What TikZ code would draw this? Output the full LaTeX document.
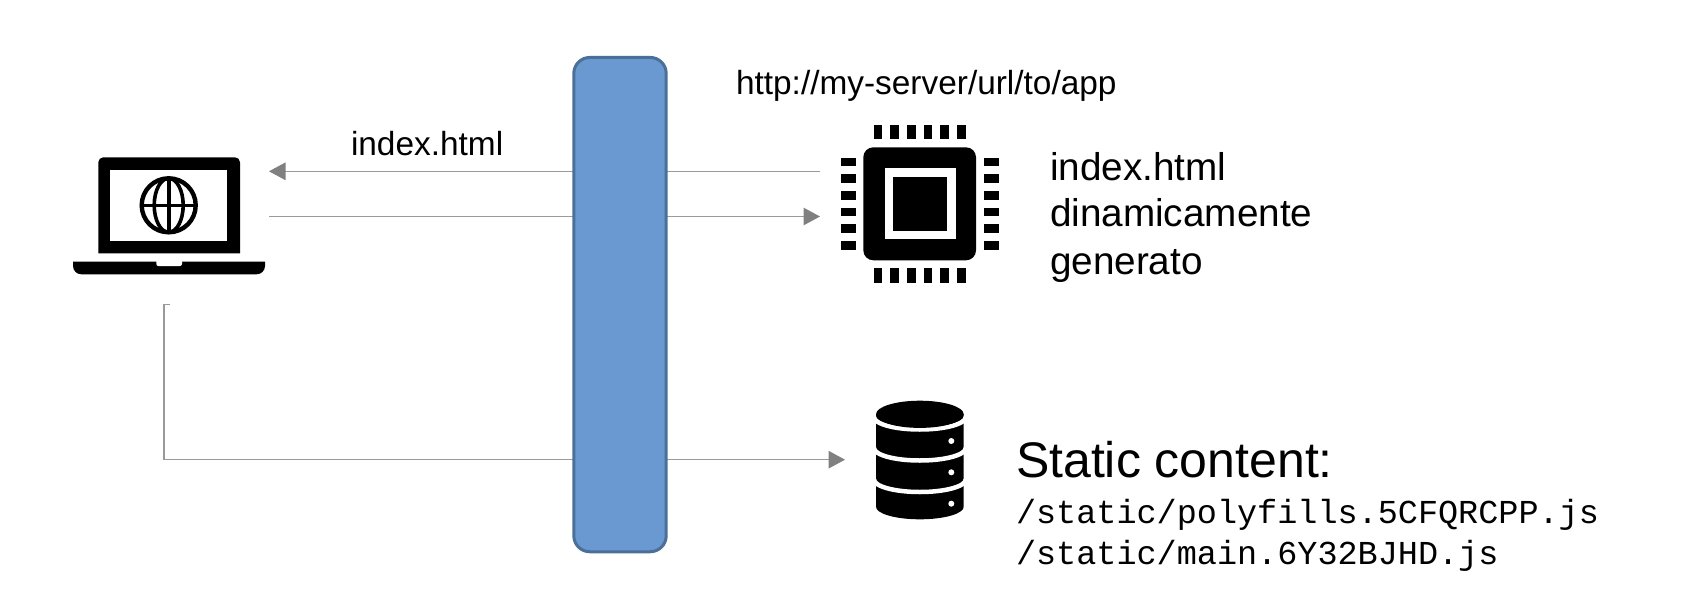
\documentclass[tikz,border=0pt]{standalone}
\usepackage{fontspec}
\setmainfont{Liberation Sans}
\setmonofont{Liberation Mono}
\usetikzlibrary{arrows.meta}
\definecolor{barfill}{HTML}{6A98D0}
\definecolor{bardraw}{HTML}{4A7099}
\definecolor{linkgray}{HTML}{9A9A9A}
\definecolor{headgray}{HTML}{808080}
\tikzset{
  link/.style={draw=linkgray,line width=1.2pt},
  linkarrow/.style={link,-{Triangle[length=16.5pt,width=17.5pt,color=headgray,fill=headgray]}},
  barbox/.style={draw=bardraw,fill=barfill,line width=3pt,rounded corners=16pt},
  iconbox/.style={inner sep=0pt,outer sep=0pt,draw=none},
  blk/.style={fill=black,draw=none},
  txt/.style={inner sep=0pt,outer sep=0pt,anchor=base west,text=black},
}
\begin{document}
\begin{tikzpicture}[x=1pt,y=-1pt]
\useasboundingbox (0,0) rectangle (1694,602);
\fill[white] (0,0) rectangle (1694,602);
% anchor boxes
\node[iconbox,minimum width=196pt,minimum height=118pt] (laptop) at (171,216) {};
\node[iconbox,minimum width=200pt,minimum height=159pt] (chip) at (920,204) {};
\node[iconbox,minimum width=120pt,minimum height=119pt] (db) at (905,460) {};
\coordinate (lapTail) at (170,304.5);
\coordinate (lapCorner) at (164,304.5);
% connectors
\draw[linkarrow] (chip.west |- 0,171.3) -- (laptop.east |- 0,171.3);
\draw[linkarrow] (laptop.east |- 0,216.5) -- (chip.west |- 0,216.5);
\draw[linkarrow] (lapTail) -- (lapCorner) -- (164,459.7) -- (db.west |- 0,459.7);
% bar
\node[barbox,minimum width=92.4pt,minimum height=494.3pt,inner sep=0pt] (bar) at (620,304.6) {};
% laptop
\fill[blk] (98.3,253.3) -- (98.3,162.3) arc (180:270:5) -- (235,157.3) arc (270:360:5) -- (240,253.3) -- cycle;
\fill[white] (110.3,170) rectangle (227.4,240.7);
\draw[line width=4.4pt] (168.7,205.3) circle (27);
\draw[line width=3.6pt] (168.7,205.3) ellipse (14.5 and 27);
\draw[line width=3.6pt] (168.7,178.3) -- (168.7,232.3) (141.7,205.3) -- (195.7,205.3);
\fill[blk] (73,261.7) -- (265,261.7) -- (265,266) arc (0:90:8.3) -- (81.3,274.3) arc (90:180:8.3) -- cycle;
\fill[white,rounded corners=2pt] (156.3,258) -- (156.3,266) -- (182,266) -- (182,258) -- cycle;
% chip
\fill[blk,rounded corners=10pt] (863.3,147.3) rectangle (976,260.3);
\fill[white] (884.7,168.3) rectangle (955.7,239.3);
\fill[blk] (892.7,176.7) rectangle (947,231.3);
\foreach \p in {878,894.7,911.3,928,944.7,961.3}{
  \fill[blk] (\p-4.3,124.7) rectangle (\p+4.3,139.3);
  \fill[blk] (\p-4.3,268.3) rectangle (\p+4.3,283.3);
}
\foreach \p in {162,178.7,195.3,212,228.7,245.3}{
  \fill[blk] (840.7,\p-4.3) rectangle (855.7,\p+4.3);
  \fill[blk] (984.3,\p-4.3) rectangle (999.3,\p+4.3);
}
% database
\fill[blk] (876,414) -- (876,506.8) arc (180:0:43.85 and 12.5) -- (963.7,414) -- cycle;
\foreach \q in {417,448,479.5}{
  \draw[white,line width=4.5pt] (874,\q) arc (180:0:45.85 and 12.5);
}
\fill[blk] (919.85,414.3) ellipse (43.85 and 13.6);
\foreach \q in {441,472.3,503.7}{\fill[white] (951.3,\q) circle (3);}
% text
\node[txt,font=\fontsize{33.4}{33.4}\selectfont] (tUrl) at (736,95) {http://my-server/url/to/app};
\node[txt,font=\fontsize{33.4}{33.4}\selectfont] (tIdx) at (351,155.5) {index.html};
\node[txt,font=\fontsize{38.7}{38.7}\selectfont] (tA) at (1050,180) {index.html};
\node[txt,font=\fontsize{38.7}{38.7}\selectfont] (tB) at (1050,226) {dinamicamente};
\node[txt,font=\fontsize{38.7}{38.7}\selectfont] (tC) at (1050,274) {generato};
\node[txt,font=\fontsize{50}{50}\selectfont] (tS) at (1016,477) {Static content:};
\node[txt,font=\ttfamily\fontsize{33.5}{33.5}\selectfont] (tP) at (1016,523) {/static/polyfills.5CFQRCPP.js};
\node[txt,font=\ttfamily\fontsize{33.5}{33.5}\selectfont] (tM) at (1016,564) {/static/main.6Y32BJHD.js};
\end{tikzpicture}
\end{document}
